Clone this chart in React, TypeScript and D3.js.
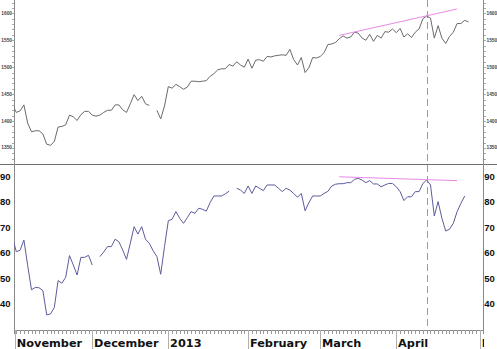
import React from "react";
import * as d3 from "d3";

// ---- data ----
const monthLabels = ["November", "December", "2013", "February", "March", "April", "May"];
const monthStartSlots = [0, 21, 41, 62, 81, 101, 123];
const slotCount = 123;

const priceSeries: (number | null)[] = [
  1430, 1416, 1419, 1430, 1396, 1380, 1382, 1382, 1376, 1357, 1355, 1362, 1389, 1390, 1393, 1411, 1408, 1401, 1412, 1418, 1418,
  1411, 1409, 1411, 1416, 1420, 1420, 1430, 1430, 1421, 1416, 1432, 1449, 1438, 1446, 1432, 1429, null, 1420, 1404, 1428,
  1464, 1461, 1468, 1464, 1459, 1463, 1474, 1474, 1473, 1474, 1475, 1483, 1488, 1495, 1497, 1497, 1505, 1502, 1510, 1504, 1500,
  1515, 1498, 1513, 1514, 1511, 1520, 1519, 1521, 1522, 1523, 1522, 1533, 1514, 1504, 1518, 1490, 1499, 1518, 1517,
  1520, 1527, 1542, 1543, 1546, 1553, 1558, 1554, 1556, 1565, 1563, 1554, 1550, 1561, 1548, 1559, 1554, 1566, 1565, 1571,
  1564, 1572, 1556, 1562, 1555, 1565, 1571, 1590, 1595, 1591, 1554, 1577, 1554, 1544, 1557, 1565, 1581, 1581, 1587, 1584,
];

const breadthSeries: (number | null)[] = [
  66, 60.4, 61, 65, 55, 45.5, 46.5, 46.3, 45.2, 35.7, 36.1, 38.6, 49.1, 48.1, 50.4, 58.9, 55.2, 51.3, 58.2, 58.2, 59,
  55.2, null, 58.5, 60.3, 62.4, 62.4, 65.3, 64.3, 61.1, 57.4, 63.7, 70.2, 67.3, 70.2, 65.3, 63.7, 60.8, 58.5, 51.6, 62.4,
  72.5, 73.1, 76.1, 73.5, 71.5, 73.7, 76.1, 75.4, 77.4, 77, 76.3, 79.6, 82.2, 82.2, 82.2, 83, 84.1, null, 85.2, 84.5, 83.2,
  86.1, 83.2, 86.1, 85.2, 84.3, 86.5, 86.5, 86.5, 85.2, 83.9, 85.2, 84.5, 83.2, 81.7, 83.2, 76.4, 79.6, 82.2, 82.2,
  82.2, 83.2, 84, 86.1, 86.8, 87, 87, 87.4, 87.4, 88.7, 89.1, 88.4, 87.4, 88.2, 86.9, 86.9, 85.8, 86.5, 87.1, 87.1,
  85.8, 83.9, 80.4, 81.9, 81.9, 83.9, 83.9, 87.1, 88.4, 86.5, 74.4, 80, 73.5, 68.5, 69.2, 71.5, 76.1, 79.3, 82.2,
];

const priceTicks = [1350, 1400, 1450, 1500, 1550, 1600];
const breadthTicks = [40, 50, 60, 70, 80, 90];
const priceTrend: [number, number][] = [[86, 1559], [117, 1608]];
const breadthTrend: [number, number][] = [[86, 89.7], [117, 88.2]];
const markerSlot = 109;

// ---- layout ----
const W = 497;
const H = 349;
const left = 14;
const right = 483;
const topPanelBottom = 164;
const axisY = 330;

export default function App() {
  const x = d3.scaleLinear().domain([0, slotCount]).range([12.5, 12.5 + 3.8 * slotCount]);
  const yTop = d3.scaleLinear().domain([1320.3, 1624.7]).range([topPanelBottom, 0]);
  const yBot = d3.scaleLinear().domain([29.8, 94.7]).range([axisY, topPanelBottom]);

  const lineTop = d3
    .line<number | null>()
    .defined((d) => d !== null)
    .x((_, i) => x(i))
    .y((d) => yTop(d as number));
  const lineBot = d3
    .line<number | null>()
    .defined((d) => d !== null)
    .x((_, i) => x(i))
    .y((d) => yBot(d as number));

  const minorTop = d3.range(1330, 1621, 10);
  const slots = d3.range(0, slotCount);
  const axisColor = "#8a8a8a";
  const labelFont = "'Liberation Sans', Arial, sans-serif";

  return (
    <svg
      width={W}
      height={H}
      style={{ position: "fixed", left: 0, top: 0, background: "#fff" }}
    >
      <defs>
        <clipPath id="plot">
          <rect x={left} y={0} width={right - left} height={axisY} />
        </clipPath>
        <clipPath id="labels">
          <rect x={0} y={axisY} width={right + 1} height={H - axisY} />
        </clipPath>
      </defs>
      <rect x={0} y={0} width={W} height={H} fill="#fff" />

      {/* panel separator */}
      <line x1={0} x2={W} y1={topPanelBottom + 0.5} y2={topPanelBottom + 0.5} stroke="#707070" strokeWidth={1} />

      {/* axes */}
      <line x1={left + 0.5} x2={left + 0.5} y1={0} y2={axisY + 4} stroke={axisColor} />
      <line x1={right + 0.5} x2={right + 0.5} y1={0} y2={axisY + 4} stroke={axisColor} />
      <line x1={left} x2={right + 1} y1={axisY + 0.5} y2={axisY + 0.5} stroke={axisColor} />

      {/* top minor ticks */}
      {minorTop.map((v) => (
        <g key={"mt" + v}>
          <line x1={left - 2} x2={left} y1={Math.round(yTop(v)) + 0.5} y2={Math.round(yTop(v)) + 0.5} stroke="#aaa" />
          <line x1={right + 1} x2={right + 3} y1={Math.round(yTop(v)) + 0.5} y2={Math.round(yTop(v)) + 0.5} stroke="#aaa" />
        </g>
      ))}

      {/* top labels */}
      {priceTicks.map((v) => (
        <g key={"pt" + v} fontFamily={labelFont} fontSize={4.8} fontWeight="bold" fill="#444">
          <text x={12} y={yTop(v)} textAnchor="end" dominantBaseline="central">{v}</text>
          <text x={486.5} y={yTop(v)} textAnchor="start" dominantBaseline="central">{v}</text>
        </g>
      ))}

      {/* bottom labels */}
      {breadthTicks.map((v) => (
        <g key={"bt" + v} fontFamily={labelFont} fontSize={9.5} fontWeight="bold" fill="#111">
          <text x={10.5} y={yBot(v)} textAnchor="end" dominantBaseline="central">{v}</text>
          <text x={484.3} y={yBot(v)} textAnchor="start" dominantBaseline="central">{v}</text>
        </g>
      ))}

      {/* x ticks */}
      {slots
        .filter((i) => x(i) >= left + 0.5 && x(i) <= right)
        .map((i) => (
          <line
            key={"xt" + i}
            x1={Math.round(x(i)) + 0.5}
            x2={Math.round(x(i)) + 0.5}
            y1={axisY}
            y2={axisY + 4}
            stroke="#999"
          />
        ))}
      {monthStartSlots.map((s, k) => {
        const px = Math.round(Math.max(x(s), left + 1)) + 0.5;
        return (
          <line key={"ms" + k} x1={px} x2={px} y1={axisY} y2={H} stroke="#b0b0b0" />
        );
      })}
      <g clipPath="url(#labels)" fontFamily="'DejaVu Sans', Verdana, sans-serif" fontWeight="bold" fontSize={11.3} fill="#111">
        {monthLabels.map((m, k) => (
          <text key={m} x={Math.max(x(monthStartSlots[k]), left + 1) + 1.8} y={346.5}>
            {m}
          </text>
        ))}
      </g>

      {/* marker */}
      <line
        x1={Math.round(x(markerSlot)) + 0.5}
        x2={Math.round(x(markerSlot)) + 0.5}
        y1={0}
        y2={axisY + 2}
        stroke="#9a9a9a"
        strokeDasharray="7,4"
      />

      <g clipPath="url(#plot)">
        <path d={lineTop(priceSeries) || ""} fill="none" stroke="#6a6a6a" strokeWidth={1} />
        <path d={lineBot(breadthSeries) || ""} fill="none" stroke="#5c5c9c" strokeWidth={1} />
        <line
          x1={x(priceTrend[0][0])}
          y1={yTop(priceTrend[0][1])}
          x2={x(priceTrend[1][0])}
          y2={yTop(priceTrend[1][1])}
          stroke="#e88ae8"
          strokeWidth={1}
        />
        <line
          x1={x(breadthTrend[0][0])}
          y1={yBot(breadthTrend[0][1])}
          x2={x(breadthTrend[1][0])}
          y2={yBot(breadthTrend[1][1])}
          stroke="#e88ae8"
          strokeWidth={1}
        />
      </g>
    </svg>
  );
}
